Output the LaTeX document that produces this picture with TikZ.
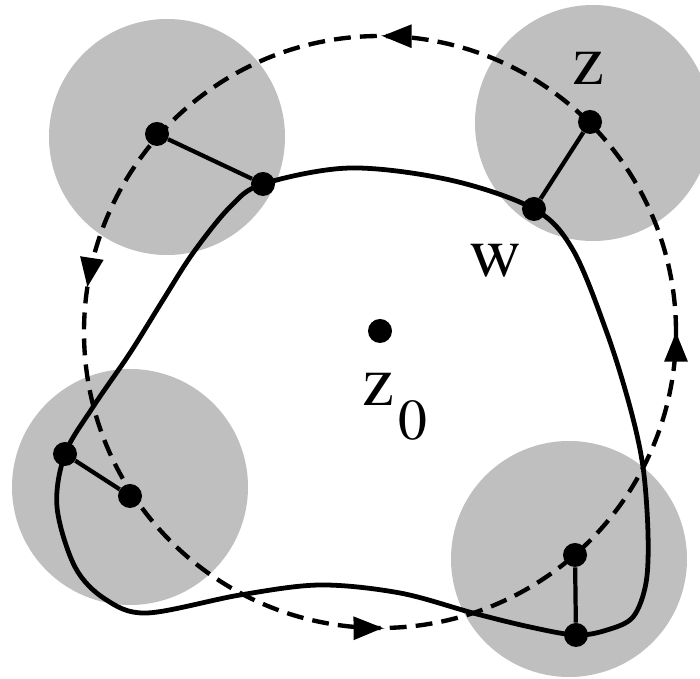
\documentclass[tikz,border=0pt]{standalone}
\usetikzlibrary{arrows.meta}
\newcommand{\timesfont}{\fontencoding{T1}\fontfamily{ptm}\selectfont}
\definecolor{disk}{RGB}{191,191,191}
\tikzset{
  disc/.style={fill=disk},
  dashcirc/.style={line width=3.1pt, dash pattern=on 12pt off 6.5pt},
  tipmark/.style={line width=3.1pt, -{Triangle[length=21pt,width=16pt]}},
  curve/.style={line width=3.4pt},
  link/.style={line width=3pt},
  dot/.style={circle, fill=black, inner sep=0pt, minimum size=0.6cm},
  lab/.style={inner sep=0pt, anchor=base, font=\timesfont\fontsize{51}{51}\selectfont}
}
\begin{document}
\begin{tikzpicture}[x=0.025cm, y=0.025cm]
\useasboundingbox (0,0) rectangle (700,679);
% gray disks
\fill[disc] (167,542) circle[radius=118];
\fill[disc] (593,556) circle[radius=118];
\fill[disc] (130,192) circle[radius=118];
\fill[disc] (569,120) circle[radius=118];
% dashed circle
\coordinate (c) at (380,347);
\draw[dashcirc] (c) circle[radius=296];
\draw[tipmark] (c) ++(85.6:296) arc[start angle=85.6, end angle=89.6, radius=296];
\draw[tipmark] (c) ++(167.3:296) arc[start angle=167.3, end angle=171.3, radius=296];
\draw[tipmark] (c) ++(266.6:296) arc[start angle=266.6, end angle=270.6, radius=296];
\draw[tipmark] (c) ++(356:296) arc[start angle=356, end angle=360, radius=296];
% closed curve
\draw[curve] plot[smooth cycle, tension=0.55] coordinates {
  (263,495) (350,511) (450,499) (534,470) (573,429) (607,346) (630,272)
  (643,212) (648,146) (646,96) (633,62) (607,49) (576,44) (530,52)
  (473,66) (400,86) (320,94) (240,84) (147,66) (105,80) (75,112)
  (57,172) (65,225) (93,272) (130,326) (163,379) (193,426) (230,472)};
% dots
\node[dot] (a1) at (157,545) {};
\node[dot] (b1) at (263,495) {};
\node[dot] (a2) at (590,557) {};
\node[dot] (b2) at (534,470) {};
\node[dot] (a3) at (130,183) {};
\node[dot] (b3) at (65,225) {};
\node[dot] (a4) at (575,124) {};
\node[dot] (b4) at (576,44) {};
\node[dot] (z0) at (380,348) {};
\draw[link] (a1) -- (b1);
\draw[link] (a2) -- (b2);
\draw[link] (a3) -- (b3);
\draw[link] (a4) -- (b4);
% labels
\node[lab] (lz) at (588,594) {z};
\node[lab] (lw) at (495,402) {w};
\node[lab, anchor=base west] (lz0) at (362,273) {z\hspace{3pt}\raisebox{-24pt}{\fontsize{41}{41}\selectfont 0}};
\end{tikzpicture}
\end{document}
